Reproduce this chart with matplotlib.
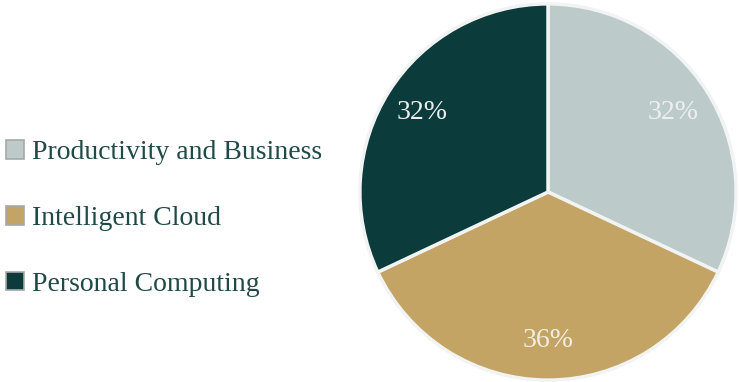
import matplotlib.pyplot as plt
from matplotlib.patches import Patch

# --- data ---
segments = ['Productivity and Business', 'Intelligent Cloud', 'Personal Computing']
shares = [32, 36, 32]
colors = ['#BDCACA', '#C4A464', '#0B3B3B']
label_colors = ['#EEF0F0', '#F2EEE4', '#EEF0F0']

plt.rcParams['font.family'] = ['Liberation Serif', 'DejaVu Serif']

fig = plt.figure(figsize=(7.39, 3.82), dpi=100)
ax = fig.add_axes([358 / 739, 0 / 382, 380 / 739, 380 / 382])

wedges, texts, autotexts = ax.pie(
    shares, colors=colors, startangle=90, counterclock=False,
    autopct='%1.0f%%', pctdistance=0.79,
    wedgeprops=dict(edgecolor='#F2F4F4', linewidth=2.5),
    textprops=dict(fontsize=20))
for t, c in zip(autotexts, label_colors):
    t.set_color(c)
ax.set_xlim(-1.01, 1.01)
ax.set_ylim(-1.01, 1.01)
ax.set_aspect('equal')

# legend with small bordered squares
handles = [Patch(facecolor=c, edgecolor='#A8A8A8', linewidth=1.2) for c in colors]
fig.legend(handles, segments, loc='center left', bbox_to_anchor=(0.008, 0.428),
           frameon=False, fontsize=20, labelcolor='#1F4A45',
           borderpad=0, borderaxespad=0,
           handlelength=0.65, handleheight=0.65, handletextpad=0.3,
           labelspacing=1.46)

fig.savefig('out.png', dpi=100)
